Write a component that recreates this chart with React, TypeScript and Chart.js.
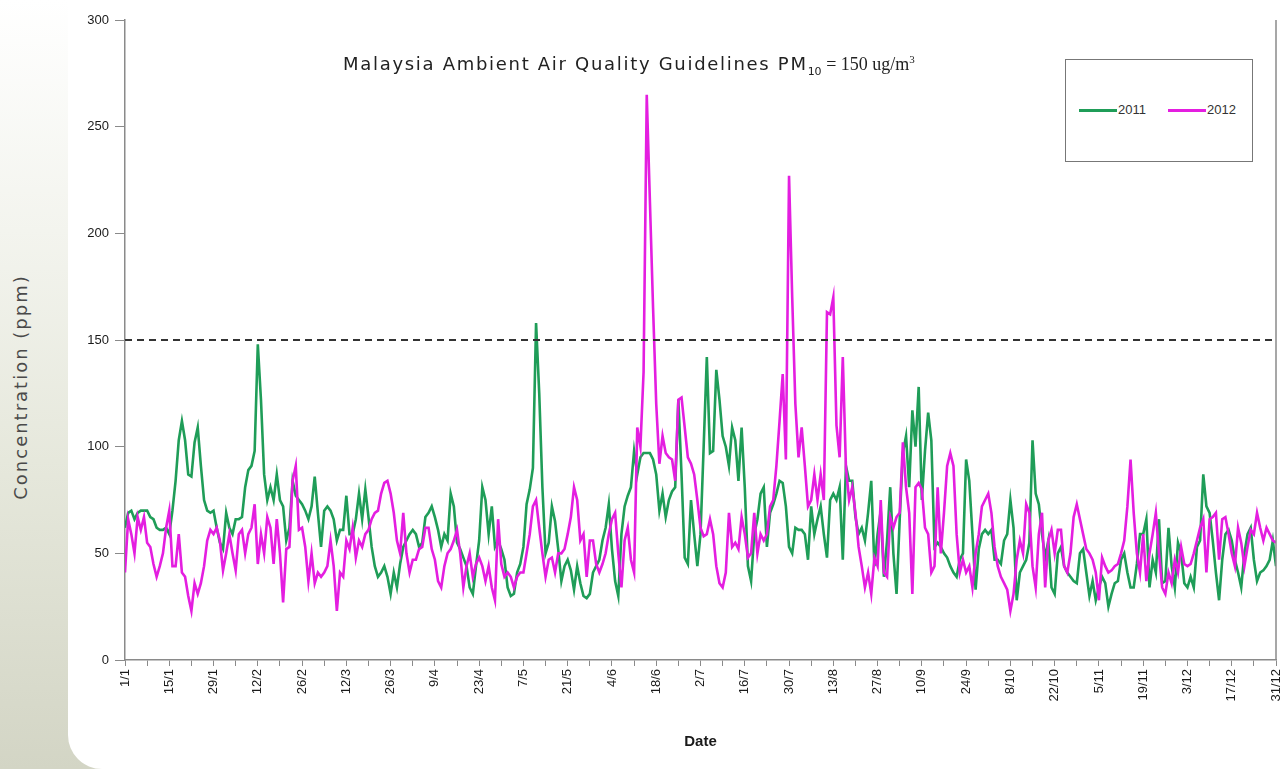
import React, { useEffect, useRef } from 'react';
import { Chart, registerables } from 'chart.js';

Chart.register(...registerables);

// Day index of the year (0 = 1 January, 364 = 31 December)
const DAYS: number[] = Array.from({ length: 365 }, (_, i) => i);

const TICK_LABELS = ['1/1', '15/1', '29/1', '12/2', '26/2', '12/3', '26/3', '9/4', '23/4', '7/5', '21/5', '4/6', '18/6', '2/7', '16/7', '30/7', '13/8', '27/8', '10/9', '24/9', '8/10', '22/10', '5/11', '19/11', '3/12', '17/12', '31/12'];

const GUIDELINE = 150;

const SERIES_2011 = [
  62, 69, 70, 66, 69, 70, 70, 70, 67, 66,
  62, 61, 61, 62, 59, 70, 84, 103, 112, 103,
  87, 86, 102, 109, 91, 75, 70, 69, 70, 62,
  55, 52, 69, 62, 59, 66, 66, 67, 81, 89,
  91, 98, 148, 122, 87, 75, 81, 75, 87, 75,
  72, 56, 62, 84, 77, 75, 73, 70, 66, 72,
  86, 69, 53, 70, 72, 70, 66, 56, 61, 61,
  77, 59, 59, 66, 78, 66, 80, 67, 53, 44,
  39, 41, 44, 39, 31, 41, 34, 45, 53, 56,
  59, 61, 59, 53, 55, 67, 69, 72, 67, 61,
  53, 59, 56, 78, 72, 55, 52, 48, 44, 34,
  31, 44, 56, 81, 75, 59, 72, 53, 56, 52,
  47, 34, 30, 31, 41, 45, 53, 73, 80, 90,
  158, 125, 81, 50, 55, 72, 65, 52, 37, 44,
  47, 42, 33, 44, 36, 30, 29, 31, 41, 44,
  47, 56, 62, 73, 52, 37, 30, 59, 72, 77,
  81, 98, 87, 95, 97, 97, 97, 94, 87, 70,
  78, 67, 75, 79, 81, 122, 87, 48, 45, 75,
  59, 44, 59, 100, 142, 97, 98, 136, 122, 105,
  100, 91, 109, 103, 84, 109, 81, 44, 37, 59,
  66, 78, 81, 53, 69, 73, 78, 84, 83, 72,
  53, 50, 62, 61, 61, 59, 47, 72, 59, 66,
  72, 59, 48, 75, 78, 75, 81, 47, 91, 84,
  84, 67, 59, 62, 56, 69, 84, 44, 59, 70,
  39, 56, 81, 50, 31, 66, 97, 105, 81, 117,
  100, 128, 75, 98, 116, 103, 53, 55, 53, 50,
  48, 44, 41, 39, 47, 50, 94, 84, 59, 33,
  52, 59, 61, 59, 61, 47, 47, 45, 56, 59,
  75, 62, 28, 41, 44, 47, 55, 103, 78, 73,
  59, 48, 56, 34, 31, 50, 53, 44, 41, 39,
  37, 36, 50, 52, 41, 30, 37, 28, 34, 39,
  36, 25, 31, 36, 37, 47, 50, 41, 34, 34,
  45, 59, 59, 66, 34, 47, 41, 66, 36, 37,
  62, 44, 34, 55, 50, 36, 34, 39, 34, 53,
  56, 87, 72, 69, 56, 41, 28, 47, 59, 61,
  56, 47, 41, 34, 50, 59, 62, 47, 37, 41,
  42, 44, 47, 56, 44,
];

const SERIES_2012 = [
  41, 66, 59, 50, 67, 61, 67, 55, 53, 45,
  39, 44, 50, 62, 70, 44, 44, 59, 41, 39,
  30, 23, 36, 31, 36, 44, 56, 61, 59, 62,
  56, 42, 50, 59, 50, 42, 59, 61, 50, 59,
  62, 73, 45, 59, 50, 67, 62, 45, 66, 50,
  27, 52, 53, 84, 91, 61, 62, 53, 37, 50,
  36, 41, 39, 41, 44, 56, 44, 23, 41, 39,
  56, 52, 62, 48, 56, 53, 59, 61, 66, 69,
  70, 78, 83, 84, 78, 69, 56, 50, 69, 50,
  41, 47, 47, 52, 53, 62, 62, 52, 47, 37,
  34, 44, 50, 52, 56, 61, 50, 34, 44, 50,
  39, 45, 48, 44, 37, 44, 34, 28, 66, 45,
  39, 41, 39, 34, 39, 41, 41, 50, 59, 72,
  75, 62, 50, 39, 47, 48, 41, 50, 50, 52,
  59, 67, 81, 75, 56, 59, 39, 56, 56, 45,
  41, 45, 50, 59, 66, 69, 50, 34, 56, 62,
  47, 41, 109, 100, 135, 265, 215, 165, 120, 92,
  105, 97, 95, 94, 84, 122, 123, 109, 95, 92,
  87, 75, 62, 58, 59, 66, 59, 44, 36, 34,
  41, 69, 53, 55, 52, 67, 59, 48, 50, 69,
  50, 59, 56, 59, 72, 75, 91, 112, 134, 94,
  227, 170, 120, 95, 109, 91, 72, 75, 87, 75,
  87, 75, 163, 162, 170, 110, 95, 142, 90, 75,
  81, 69, 53, 44, 34, 41, 31, 48, 44, 75,
  41, 39, 67, 62, 67, 69, 102, 81, 69, 31,
  81, 83, 80, 62, 59, 41, 44, 81, 50, 69,
  91, 97, 91, 59, 41, 47, 41, 44, 34, 50,
  59, 72, 75, 78, 69, 53, 44, 39, 36, 33,
  23, 31, 47, 56, 50, 73, 69, 44, 34, 59,
  69, 34, 56, 61, 50, 61, 61, 44, 41, 50,
  67, 73, 66, 59, 52, 50, 47, 41, 28, 48,
  44, 41, 42, 44, 45, 50, 56, 72, 94, 69,
  50, 41, 59, 37, 50, 59, 69, 50, 34, 31,
  41, 36, 47, 41, 53, 45, 44, 45, 50, 56,
  62, 66, 41, 66, 67, 69, 47, 66, 67, 59,
  50, 44, 62, 55, 44, 53, 61, 59, 69, 62,
  56, 62, 59, 56, 55,
];

const GREEN = '#1f9d58';
const MAGENTA = '#e41ee0';

const overlayPlugin = {
  id: 'overlayLines',
  afterDatasetsDraw(chart: any) {
    const { ctx, chartArea, scales } = chart;
    const y = scales.y.getPixelForValue(GUIDELINE);
    ctx.save();
    ctx.setLineDash([7, 5]);
    ctx.strokeStyle = '#333333';
    ctx.lineWidth = 2;
    ctx.beginPath();
    ctx.moveTo(chartArea.left, y);
    ctx.lineTo(chartArea.right, y);
    ctx.stroke();
    ctx.setLineDash([]);
    ctx.strokeStyle = '#8a8a8a';
    ctx.lineWidth = 1.5;
    ctx.beginPath();
    ctx.moveTo(chartArea.right, chartArea.top);
    ctx.lineTo(chartArea.right, chartArea.bottom);
    ctx.stroke();
    ctx.restore();
  },
};

export default function App() {
  const ref = useRef<HTMLCanvasElement>(null);

  useEffect(() => {
    if (!ref.current) return;
    const chart = new Chart(ref.current, {
      type: 'line',
      data: {
        labels: DAYS,
        datasets: [
          {
            label: '2011',
            data: SERIES_2011,
            borderColor: GREEN,
            backgroundColor: GREEN,
            borderWidth: 2.6,
            pointRadius: 0,
            tension: 0,
            order: 1,
          },
          {
            label: '2012',
            data: SERIES_2012,
            borderColor: MAGENTA,
            backgroundColor: MAGENTA,
            borderWidth: 2.6,
            pointRadius: 0,
            tension: 0,
            order: 0,
          },
        ],
      },
      options: {
        responsive: false,
        devicePixelRatio: 1,
        animation: false,
        events: [],
        layout: { padding: { top: 20, right: 11, left: 0, bottom: 0 } },
        plugins: {
          legend: { display: false },
          tooltip: { enabled: false },
        },
        scales: {
          x: {
            type: 'linear',
            min: 0,
            max: 364,
            afterFit: (s: any) => {
              s.height = 109;
              s.paddingLeft = 0;
              s.paddingRight = 0;
            },
            ticks: {
              stepSize: 7,
              autoSkip: false,
              minRotation: 90,
              maxRotation: 90,
              padding: 3,
              color: '#1a1a1a',
              font: { family: '"Liberation Sans", Arial, sans-serif', size: 13 },
              callback: (v: any) => (Number(v) % 14 === 0 ? TICK_LABELS[Number(v) / 14] : ''),
            },
            grid: { drawOnChartArea: false, drawTicks: true, tickLength: 6, color: '#8a8a8a' },
            border: { color: '#8a8a8a', width: 1.5 },
            title: {
              display: true,
              text: 'Date',
              color: '#1a1a1a',
              font: { family: '"Liberation Sans", Arial, sans-serif', size: 15, weight: 'bold' },
              padding: { top: 0, bottom: 18 },
            },
          },
          y: {
            min: 0,
            max: 300,
            afterFit: (s: any) => {
              s.width = 125;
            },
            ticks: {
              stepSize: 50,
              padding: 6,
              color: '#1a1a1a',
              font: { family: '"Liberation Sans", Arial, sans-serif', size: 13 },
            },
            grid: { drawOnChartArea: false, drawTicks: true, tickLength: 10, color: '#8a8a8a' },
            border: { color: '#8a8a8a', width: 1.5 },
          },
        },
      },
      plugins: [overlayPlugin],
    } as any);
    return () => chart.destroy();
  }, []);

  return (
    <div
      style={{
        position: 'absolute',
        left: 0,
        top: 0,
        width: 1287,
        height: 769,
        overflow: 'hidden',
        background: 'linear-gradient(to bottom, #ffffff 0%, #f3f4ee 30%, #e6e8dc 60%, #d3d5c5 100%)',
      }}
    >
      <div
        style={{
          position: 'absolute',
          left: 68,
          top: 0,
          right: 0,
          bottom: 0,
          background: '#ffffff',
          borderBottomLeftRadius: 34,
        }}
      />
      <div
        style={{
          position: 'absolute',
          left: 20,
          top: 387,
          transform: 'translate(-50%, -50%) rotate(-90deg)',
          whiteSpace: 'nowrap',
          fontFamily: '"DejaVu Sans", sans-serif',
          fontSize: 18,
          letterSpacing: 2,
          color: '#4a4a4a',
        }}
      >
        Concentration (ppm)
      </div>
      <canvas
        ref={ref}
        width={1287}
        height={769}
        style={{ position: 'absolute', left: 0, top: 0, width: 1287, height: 769 }}
      />
      <div
        style={{
          position: 'absolute',
          left: 343,
          top: 49,
          whiteSpace: 'nowrap',
          color: '#222',
          lineHeight: '20px',
        }}
      >
        <span style={{ fontFamily: '"DejaVu Sans", sans-serif', fontSize: 18, letterSpacing: 1.7 }}>
          Malaysia Ambient Air Quality Guidelines PM
        </span>
        <sub style={{ fontFamily: '"DejaVu Sans", sans-serif', fontSize: 11, verticalAlign: -5 }}>10</sub>
        <span style={{ fontFamily: '"Liberation Serif", serif', fontSize: 18 }}>
          {' = 150 ug/m'}
          <sup style={{ fontSize: 11, verticalAlign: 7 }}>3</sup>
        </span>
      </div>
      <div
        style={{
          position: 'absolute',
          left: 1065,
          top: 59,
          width: 186,
          height: 101,
          border: '1.5px solid #777',
          background: '#fff',
        }}
      >
        <div style={{ position: 'absolute', left: 13, top: 49, width: 38, height: 3, background: GREEN }} />
        <div
          style={{
            position: 'absolute',
            left: 52,
            top: 42,
            fontFamily: '"Liberation Sans", Arial, sans-serif',
            fontSize: 13,
            lineHeight: '16px',
            color: '#333',
          }}
        >
          2011
        </div>
        <div style={{ position: 'absolute', left: 102, top: 49, width: 38, height: 3, background: MAGENTA }} />
        <div
          style={{
            position: 'absolute',
            left: 141,
            top: 42,
            fontFamily: '"Liberation Sans", Arial, sans-serif',
            fontSize: 13,
            lineHeight: '16px',
            color: '#333',
          }}
        >
          2012
        </div>
      </div>
    </div>
  );
}
